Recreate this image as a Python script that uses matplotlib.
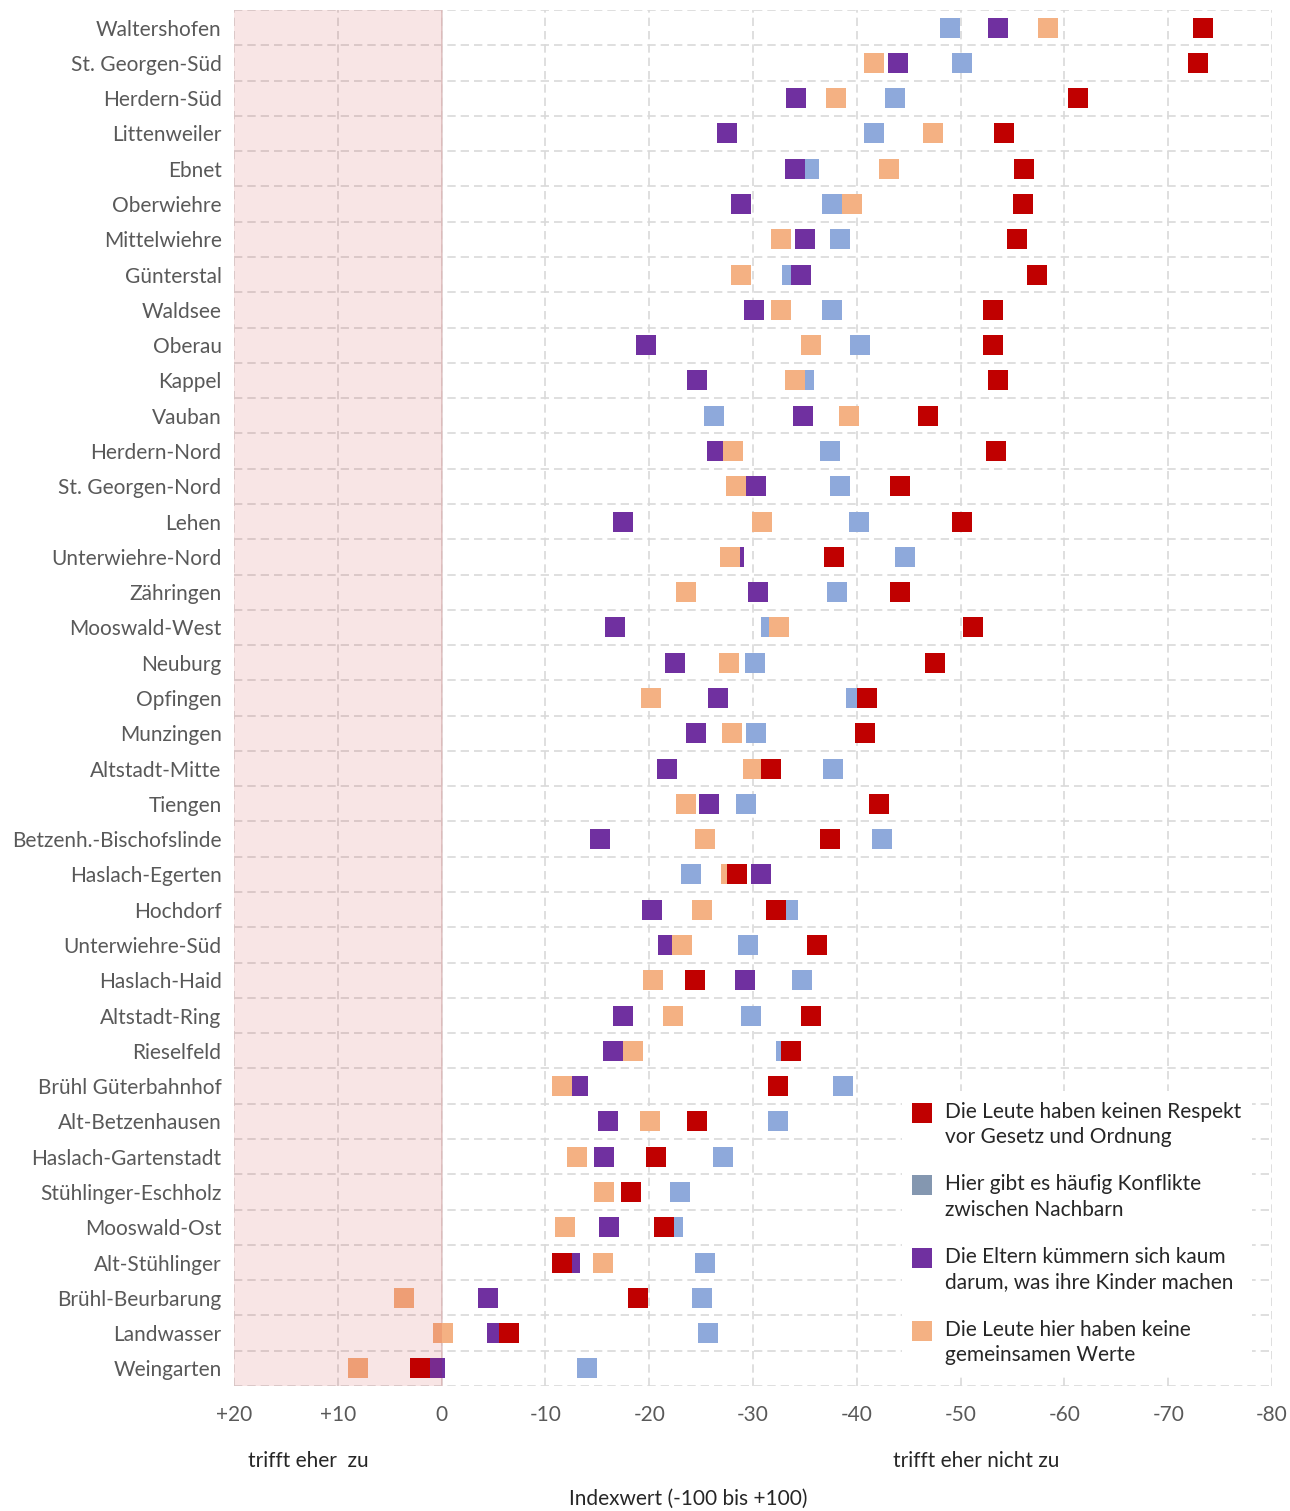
import matplotlib
matplotlib.use("Agg")
import matplotlib.pyplot as plt
from matplotlib.lines import Line2D
from matplotlib.legend_handler import HandlerLine2D

plt.rcParams['font.family'] = ['Lato', 'DejaVu Sans']

districts = ["Waltershofen", "St. Georgen-Süd", "Herdern-Süd", "Littenweiler", "Ebnet",
             "Oberwiehre", "Mittelwiehre", "Günterstal", "Waldsee", "Oberau", "Kappel",
             "Vauban", "Herdern-Nord", "St. Georgen-Nord", "Lehen", "Unterwiehre-Nord",
             "Zähringen", "Mooswald-West", "Neuburg", "Opfingen", "Munzingen",
             "Altstadt-Mitte", "Tiengen", "Betzenh.-Bischofslinde", "Haslach-Egerten",
             "Hochdorf", "Unterwiehre-Süd", "Haslach-Haid", "Altstadt-Ring", "Rieselfeld",
             "Brühl Güterbahnhof", "Alt-Betzenhausen", "Haslach-Gartenstadt",
             "Stühlinger-Eschholz", "Mooswald-Ost", "Alt-Stühlinger", "Brühl-Beurbarung",
             "Landwasser", "Weingarten"]

# Die Leute haben keinen Respekt vor Gesetz und Ordnung
respekt = [-73.3, -72.9, -61.3, -54.2, -56.1, -56.0, -55.4, -57.4, -53.1, -53.1, -53.6,
           -46.9, -53.4, -44.2, -50.1, -37.8, -44.2, -51.2, -47.5, -41.0, -40.8, -31.7,
           -42.1, -37.4, -28.5, -32.2, -36.2, -24.4, -35.6, -33.7, -32.4, -24.6, -20.7,
           -18.2, -21.4, -11.6, -18.9, -6.5, 2.1]
# Hier gibt es häufig Konflikte zwischen Nachbarn
konflikte = [-49.0, -50.1, -43.7, -41.7, -35.4, -37.6, -38.4, -33.8, -37.6, -40.3, -34.9,
             -26.2, -37.4, -38.4, -40.2, -44.6, -38.1, -31.7, -30.2, -39.9, -30.3, -37.7,
             -29.3, -42.4, -24.0, -33.4, -29.5, -34.7, -29.8, -33.2, -38.7, -32.4, -27.1,
             -23.0, -22.3, -25.4, -25.1, -25.7, -14.0]
# Die Eltern kümmern sich kaum darum, was ihre Kinder machen
eltern = [-53.6, -44.0, -34.1, -27.5, -34.0, -28.8, -35.0, -34.6, -30.1, -19.7, -24.6,
          -34.8, -26.5, -30.3, -17.5, -28.2, -30.5, -16.7, -22.5, -26.6, -24.5, -21.7,
          -25.8, -15.3, -30.8, -20.3, -21.8, -29.2, -17.5, -16.5, -13.1, -16.0, -15.6,
          -15.6, -16.1, -12.4, -4.5, -5.3, 0.6]
# Die Leute hier haben keine gemeinsamen Werte
werte = [-58.4, -41.7, -38.0, -47.3, -43.1, -39.5, -32.7, -28.8, -32.7, -35.6, -34.0,
         -39.2, -28.1, -28.4, -30.9, -27.8, -23.5, -32.5, -27.7, -20.2, -28.0, -30.0,
         -23.5, -25.4, -27.9, -25.1, -23.2, -20.4, -22.3, -18.4, -11.6, -20.1, -13.0,
         -15.6, -11.9, -15.5, 3.6, -0.1, 8.1]

labels = ["Die Leute haben keinen Respekt\nvor Gesetz und Ordnung",
          "Hier gibt es häufig Konflikte\nzwischen Nachbarn",
          "Die Eltern kümmern sich kaum\ndarum, was ihre Kinder machen",
          "Die Leute hier haben keine\ngemeinsamen Werte"]
legend_colors = ["#C00000", "#8497B0", "#7030A0", "#F4B183"]

xticks = [20, 10, 0, -10, -20, -30, -40, -50, -60, -70, -80]
xticklabels = ["+20", "+10", "0", "-10", "-20", "-30", "-40", "-50", "-60", "-70", "-80"]

grey = "#595959"
dark = "#262626"
ms = 14.4
fs = 15


class TopHandler(HandlerLine2D):
    # put the square next to the first text line instead of the middle
    def create_artists(self, legend, orig_handle, xdescent, ydescent, width, height,
                       fontsize, trans):
        arts = super().create_artists(legend, orig_handle, xdescent, ydescent, width,
                                      height, fontsize, trans)
        for a in arts:
            a.set_ydata([v + 0.6 * fontsize for v in a.get_ydata()])
        return arts


fig = plt.figure(figsize=(12.9, 15.11), dpi=100)
ax = fig.add_axes([0.1814, 0.0827, 0.8047, 0.9107])

y = list(range(len(districts)))
# drawing order: blue, purple, orange, red on top
ax.plot(konflikte, y, 's', color="#8EA9DB", ms=ms, mew=0, zorder=3)
ax.plot(eltern, y, 's', color="#7030A0", ms=ms, mew=0, zorder=3)
ax.plot(werte, y, 's', color="#F4B183", ms=ms, mew=0, zorder=3)
ax.plot(respekt, y, 's', color="#C00000", ms=ms, mew=0, zorder=3)

ax.axvspan(0, 20, color="#C00000", alpha=0.1, lw=0, zorder=5)
ax.axvline(0, color="#E2CFCF", lw=1.2, zorder=2)

ax.set_ylim(len(districts) - 0.5, -0.5)
ax.set_xlim(20, -80)
ax.set_yticks(y)
ax.set_yticklabels(districts)
ax.set_xticks(xticks)
ax.set_xticklabels(xticklabels)
ax.set_yticks([i - 0.5 for i in range(len(districts) + 1)], minor=True)

ax.grid(True, axis='x', which='major', color="#D9D9D9", ls=(0, (5, 3)), lw=1.2, zorder=1)
ax.grid(True, axis='y', which='minor', color="#D9D9D9", ls=(0, (5, 3)), lw=1.2, zorder=1)
ax.grid(False, axis='y', which='major')
for s in ax.spines.values():
    s.set_visible(False)
ax.tick_params(axis='both', which='both', length=0, colors=grey, labelsize=fs)
ax.tick_params(axis='y', pad=9)
ax.tick_params(axis='x', pad=14)

handles = [Line2D([], [], marker='s', ls='none', color=c, ms=ms, mew=0) for c in legend_colors]
leg = ax.legend(handles, labels, loc='lower left', bbox_to_anchor=(0.633, 0.0),
                frameon=True, fancybox=False, edgecolor='none', facecolor='white',
                framealpha=1, fontsize=fs, labelspacing=1.3, handlelength=1.0,
                handletextpad=0.6, borderpad=0.5, labelcolor=dark,
                handler_map={Line2D: TopHandler()})
for t in leg.get_texts():
    t.set_linespacing(1.35)
leg.set_zorder(6)

fig.text(248 / 1290, 1 - 1461 / 1511, "trifft eher  zu", fontsize=fs, color=dark,
         ha='left', va='center')
fig.text(893 / 1290, 1 - 1461 / 1511, "trifft eher nicht zu", fontsize=fs, color=dark,
         ha='left', va='center')
fig.text(688 / 1290, 1 - 1499 / 1511, "Indexwert (-100 bis +100)", fontsize=fs,
         color=dark, ha='center', va='center')

fig.savefig("out.png", dpi=100)
